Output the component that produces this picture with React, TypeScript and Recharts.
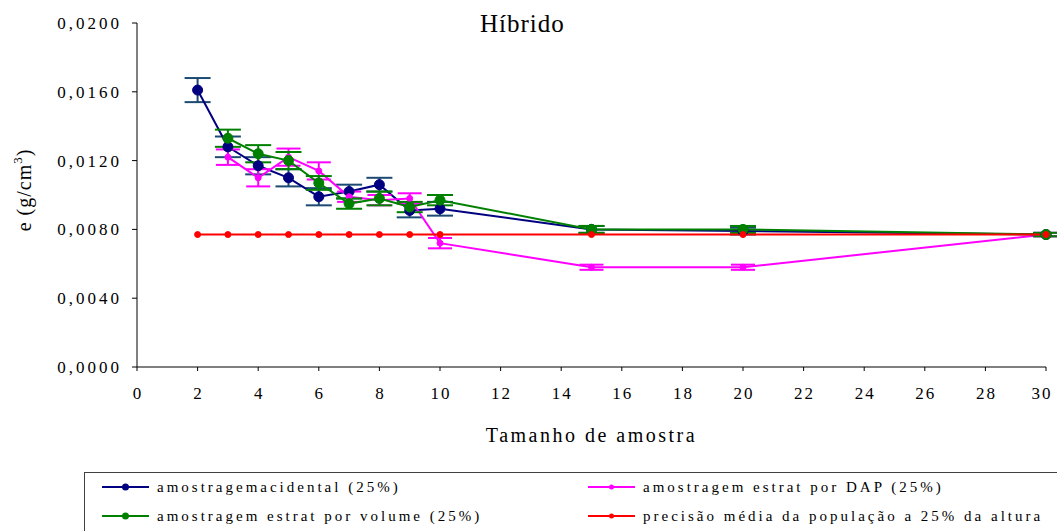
import React from "react";
import { LineChart, Line, XAxis, YAxis, ErrorBar } from "recharts";

const sampleSizes = [2, 3, 4, 5, 6, 7, 8, 9, 10, 15, 20, 30];
const acidental = [0.0161, 0.0128, 0.0117, 0.011, 0.0099, 0.0102, 0.0106, 0.0091, 0.0092, 0.008, 0.0079, 0.0077];
const acidentalErr = [0.0007, 0.0006, 0.0005, 0.0005, 0.0005, 0.0004, 0.0004, 0.0004, 0.0004, 0.0002, 0.0002, 0.0001];
const porVolume = [null, 0.0133, 0.0124, 0.012, 0.0107, 0.0095, 0.0098, 0.0093, 0.0097, 0.008, 0.008, 0.0077];
const porVolumeErr = [null, 0.0005, 0.0005, 0.0005, 0.0004, 0.0003, 0.0004, 0.0003, 0.0003, 0.0002, 0.0002, 0.0001];
const porDAP = [null, 0.0122, 0.011, 0.0122, 0.0114, 0.0099, 0.0097, 0.0098, 0.0072, 0.0058, 0.0058, 0.0077];
const porDAPErr = [null, 0.00045, 0.0005, 0.0005, 0.0005, 0.0003, 0.0003, 0.0003, 0.0003, 0.00015, 0.00015, 0.0001];
const precisao = [0.0077, 0.0077, 0.0077, 0.0077, 0.0077, 0.0077, 0.0077, 0.0077, 0.0077, 0.0077, 0.0077, 0.0077];

const xTicks = [0, 2, 4, 6, 8, 10, 12, 14, 16, 18, 20, 22, 24, 26, 28, 30];
const yTicks = [0, 0.004, 0.008, 0.012, 0.016, 0.02];

const legendItems = [
  { label: "amostragemacidental (25%)", color: "#000080", r: 3.5 },
  { label: "amostragem estrat por DAP (25%)", color: "#FF00FF", r: 2.5 },
  { label: "amostragem estrat por volume (25%)", color: "#008000", r: 3.5 },
  { label: "precisão média da população a 25% da altura", color: "#FF0000", r: 2.5 },
];

const data = sampleSizes.map((x, i) => ({
  x,
  acidental: acidental[i],
  acidentalErr: acidentalErr[i],
  porVolume: porVolume[i],
  porVolumeErr: porVolumeErr[i],
  porDAP: porDAP[i],
  porDAPErr: porDAPErr[i],
  precisao: precisao[i],
}));

const FONT = "Liberation Serif";

const fmtY = (v: number) => v.toFixed(4).replace(".", ",");

const XTick = (props: any) => {
  const { x, y, payload } = props;
  const last = payload.value === xTicks[xTicks.length - 1];
  return (
    <text
      x={x + (last ? -4 : 1)}
      y={y}
      dy="0.71em"
      textAnchor="middle"
      fontFamily={FONT}
      fontSize={17}
      letterSpacing={2}
      fill="#000"
    >
      {payload.value}
    </text>
  );
};

export default function App() {
  return (
    <div style={{ position: "absolute", left: 0, top: 0, width: 1057, height: 531, background: "#fff", overflow: "hidden", fontFamily: FONT }}>
      <LineChart
        width={1057}
        height={531}
        data={data}
        margin={{ top: 23, right: 11, bottom: 134, left: 0 }}
        style={{ fontFamily: FONT }}
      >
        <XAxis
          dataKey="x"
          type="number"
          domain={[0, 30]}
          ticks={xTicks}
          interval={0}
          height={30}
          stroke="#000"
          tickSize={4}
          tickMargin={16}
          tick={<XTick />}
          axisLine={{ stroke: "#000", strokeWidth: 1 }}
          tickLine={{ stroke: "#000" }}
          label={{
            content: (props: any) => {
              const vb = props.viewBox;
              return (
                <text
                  x={vb.x + vb.width / 2}
                  y={vb.y + 75}
                  textAnchor="middle"
                  fontFamily={FONT}
                  fontSize={20}
                  letterSpacing={2.5}
                  fill="#000"
                >
                  Tamanho de amostra
                </text>
              );
            },
          }}
        />
        <YAxis
          type="number"
          domain={[0, 0.02]}
          ticks={yTicks}
          interval={0}
          width={137}
          stroke="#000"
          tickSize={5}
          tickMargin={10}
          tickFormatter={fmtY}
          tick={{ fill: "#000", fontSize: 17, fontFamily: FONT, letterSpacing: 3 }}
          axisLine={{ stroke: "#000", strokeWidth: 1 }}
          tickLine={{ stroke: "#000" }}
          label={{
            content: () => (
              <text
                transform="translate(31,190) rotate(-90)"
                textAnchor="middle"
                fontFamily={FONT}
                fontSize={20}
                letterSpacing={1}
                fill="#000"
              >
                e (g/cm
                <tspan dy={-9} fontSize={13}>3</tspan>
                <tspan dy={9}>)</tspan>
              </text>
            ),
          }}
        />
        <Line
          dataKey="acidental"
          stroke="#000080"
          strokeWidth={2}
          dot={{ r: 5, fill: "#000080", stroke: "#000080", strokeWidth: 1 }}
          isAnimationActive={false}
        >
          <ErrorBar dataKey="acidentalErr" direction="y" width={13} stroke="#1d4a72" strokeWidth={2} />
        </Line>
        <Line
          dataKey="porDAP"
          stroke="#FF00FF"
          strokeWidth={2}
          dot={{ r: 3, fill: "#FF00FF", stroke: "#FF00FF", strokeWidth: 1 }}
          isAnimationActive={false}
        >
          <ErrorBar dataKey="porDAPErr" direction="y" width={12} stroke="#FF00FF" strokeWidth={2} />
        </Line>
        <Line
          dataKey="porVolume"
          stroke="#008000"
          strokeWidth={2}
          dot={{ r: 5, fill: "#008000", stroke: "#008000", strokeWidth: 1 }}
          isAnimationActive={false}
        >
          <ErrorBar dataKey="porVolumeErr" direction="y" width={13} stroke="#008000" strokeWidth={2} />
        </Line>
        <Line
          dataKey="precisao"
          stroke="#FF0000"
          strokeWidth={2}
          dot={{ r: 3, fill: "#FF0000", stroke: "#FF0000", strokeWidth: 1 }}
          isAnimationActive={false}
        />
      </LineChart>
      <div
        style={{
          position: "absolute",
          left: 480,
          top: 10,
          fontFamily: FONT,
          fontSize: 25,
          letterSpacing: 1,
          color: "#000",
          whiteSpace: "nowrap",
        }}
      >
        Híbrido
      </div>
      <div
        style={{
          position: "absolute",
          left: 84,
          top: 472,
          width: 990,
          height: 80,
          border: "1px solid #404040",
          boxSizing: "border-box",
          fontFamily: FONT,
          fontSize: 15,
          letterSpacing: 3,
          color: "#000",
        }}
      >
        {legendItems.map((it, i) => {
          const col = i % 2;
          const row = Math.floor(i / 2);
          const left = col === 0 ? 16 : 502;
          const top = row === 0 ? 4 : 33;
          return (
            <div key={it.label} style={{ position: "absolute", left, top, height: 20, display: "flex", alignItems: "center", whiteSpace: "nowrap" }}>
              <svg width={50} height={20} style={{ marginRight: 6 }}>
                <line x1={1} y1={10} x2={48} y2={10} stroke={it.color} strokeWidth={2} />
                <circle cx={24.5} cy={10} r={it.r} fill={it.color} />
              </svg>
              <span>{it.label}</span>
            </div>
          );
        })}
      </div>
    </div>
  );
}
